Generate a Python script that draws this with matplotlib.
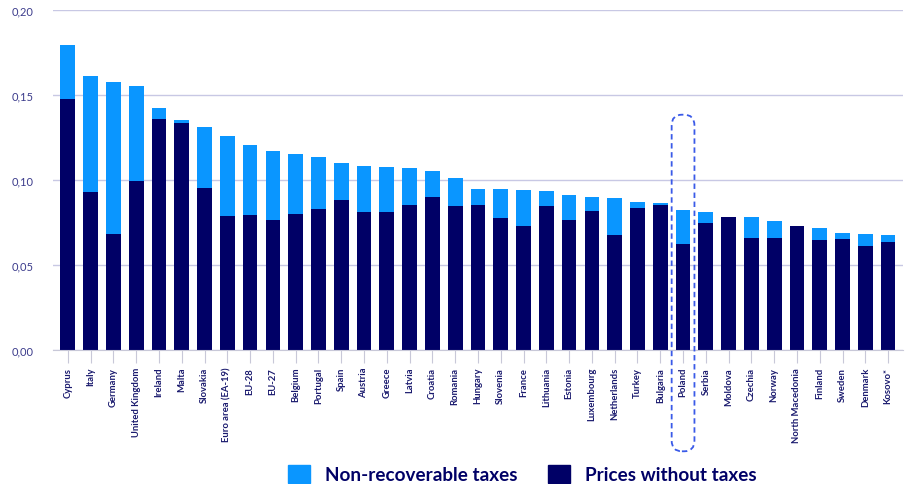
import matplotlib
matplotlib.use("Agg")
import matplotlib.pyplot as plt
from matplotlib.patches import FancyBboxPatch, Patch
from matplotlib.ticker import FuncFormatter

plt.rcParams['font.family'] = ['Lato', 'DejaVu Sans']

countries = ['Cyprus', 'Italy', 'Germany', 'United Kingdom', 'Ireland', 'Malta', 'Slovakia',
             'Euro area (EA-19)', 'EU-28', 'EU-27', 'Belgium', 'Portugal', 'Spain', 'Austria',
             'Greece', 'Latvia', 'Croatia', 'Romania', 'Hungary', 'Slovenia', 'France',
             'Lithuania', 'Estonia', 'Luxembourg', 'Netherlands', 'Turkey', 'Bulgaria',
             'Poland', 'Serbia', 'Moldova', 'Czechia', 'Norway', 'North Macedonia',
             'Finland', 'Sweden', 'Denmark', 'Kosovo*']

# prices without taxes (EUR/kWh)
base = [0.1476, 0.0931, 0.0686, 0.0994, 0.1361, 0.1337, 0.0953,
        0.0788, 0.0794, 0.0767, 0.0798, 0.0832, 0.0884, 0.0810,
        0.0810, 0.0851, 0.0900, 0.0847, 0.0851, 0.0780, 0.0733,
        0.0847, 0.0763, 0.0818, 0.0677, 0.0837, 0.0853,
        0.0624, 0.0745, 0.0784, 0.0659, 0.0659, 0.0731,
        0.0647, 0.0655, 0.0614, 0.0639]

# total price incl. non-recoverable taxes
total = [0.1794, 0.1610, 0.1578, 0.1555, 0.1422, 0.1351, 0.1314,
         0.1261, 0.1206, 0.1173, 0.1151, 0.1138, 0.1102, 0.1086,
         0.1080, 0.1069, 0.1053, 0.1010, 0.0949, 0.0949, 0.0943,
         0.0937, 0.0912, 0.0902, 0.0895, 0.0873, 0.0865,
         0.0825, 0.0810, 0.0784, 0.0782, 0.0757, 0.0731,
         0.0718, 0.0690, 0.0682, 0.0675]

taxes = [t - b for t, b in zip(total, base)]

navy = '#000066'
light = '#0A96FF'
txt = '#1a1a6e'

fig = plt.figure(figsize=(9.10, 4.85), dpi=100)
ax = fig.add_axes([0.058, 0.276, 0.934, 0.701])

x = list(range(len(countries)))
ax.bar(x, base, width=0.645, color=navy, zorder=3)
ax.bar(x, taxes, bottom=base, width=0.645, color=light, zorder=3)

ax.set_ylim(0, 0.20)
ax.set_xlim(-0.66, len(countries) - 0.36)
ax.set_yticks([0, 0.05, 0.10, 0.15, 0.20])
ax.yaxis.set_major_formatter(FuncFormatter(lambda v, p: f"{v:.2f}".replace('.', ',')))
ax.grid(axis='y', color='#c8c8e4', linewidth=1.0, zorder=0)
for s in ['top', 'right', 'left']:
    ax.spines[s].set_visible(False)
ax.spines['bottom'].set_color('#c8c8d8')
ax.spines['bottom'].set_zorder(4)

ax.set_xticks(x)
ax.set_xticklabels(countries, rotation=90, fontsize=6.8, fontweight='bold', color=txt)
ax.tick_params(axis='x', length=9, color='#c8c8d8', pad=3)
ax.tick_params(axis='y', length=0, labelsize=8, labelcolor='#3c3c8c', pad=14)

# dashed highlight around Poland
ip = countries.index('Poland')
box = FancyBboxPatch((ip - 0.5, -0.0595), 1.0, 0.198,
                     boxstyle='round,pad=0,rounding_size=0.45',
                     fill=False, edgecolor='#3a5ae8', linestyle=(0, (3, 2)),
                     linewidth=1.3, clip_on=False, zorder=5,
                     mutation_aspect=0.014)
ax.add_patch(box)

handles = [Patch(color=light, label='Non-recoverable taxes'),
           Patch(color=navy, label='Prices without taxes')]
leg = fig.legend(handles=handles, loc='lower center', bbox_to_anchor=(0.574, -0.034),
                 ncol=2, frameon=False, handlelength=1.15, handleheight=1.15,
                 columnspacing=1.6, handletextpad=0.8,
                 prop={'weight': 'bold', 'size': 13.6})
for t in leg.get_texts():
    t.set_color(navy)

fig.savefig('out.png', dpi=100)
